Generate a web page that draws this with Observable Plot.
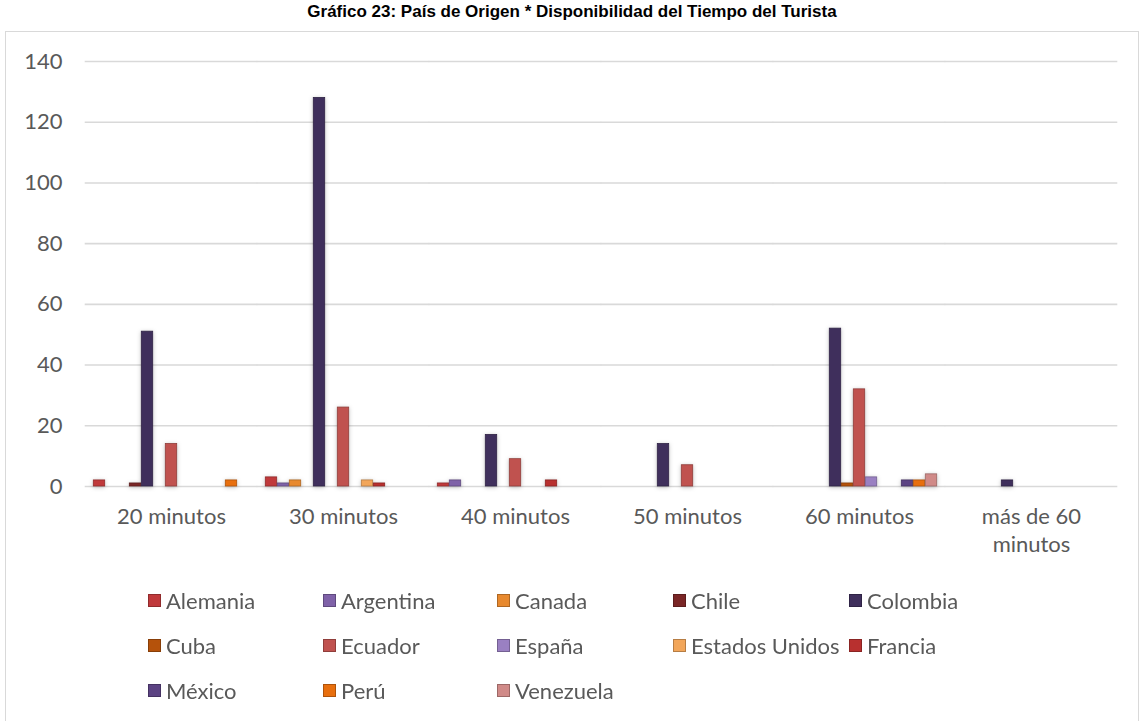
<!DOCTYPE html>
<html>
<head>
<meta charset="utf-8">
<script src="https://cdn.jsdelivr.net/npm/d3@7"></script>
<script src="https://cdn.jsdelivr.net/npm/@observablehq/plot@0.6"></script>
<style>
  html, body { margin: 0; padding: 0; background: #fff; }
  #wrap { position: relative; width: 1144px; height: 721px; overflow: hidden; font-family: Lato, "Open Sans", sans-serif; }
  #title { position: absolute; top: 2px; left: 0; width: 1144px; text-align: center; font: bold 17px "Liberation Sans", Arial, sans-serif; color: #000; }
  #frame { position: absolute; left: 5px; top: 31px; width: 1134px; height: 720px; border: 1px solid #D9D9D9; box-sizing: border-box; }
  #chart { position: absolute; left: 0; top: 31px; }
  #legend { position: absolute; left: 0; top: 0; width: 1144px; height: 721px; pointer-events: none; }
  .li { position: absolute; display: flex; align-items: center; font-size: 22px; color: #595959; white-space: nowrap; }
  .sw { width: 13px; height: 13px; margin-right: 5px; box-sizing: border-box; }
</style>
</head>
<body>
<div id="wrap">
  <div id="title">Gráfico 23: País de Origen * Disponibilidad del Tiempo del Turista</div>
  <div id="frame"></div>
  <div id="chart"></div>
  <div id="legend"></div>
</div>
<script>
// Categories (x groups)
const categories = ["20 minutos", "30 minutos", "40 minutos", "50 minutos", "60 minutos", "más de 60 minutos"];
// Series (countries)
const countries = ["Alemania", "Argentina", "Canada", "Chile", "Colombia", "Cuba", "Ecuador", "España", "Estados Unidos", "Francia", "México", "Perú", "Venezuela"];
// Series values, one per category
const alemania      = [2, 3, 1, 0, 0, 0];
const argentina     = [0, 1, 2, 0, 0, 0];
const canada        = [0, 2, 0, 0, 0, 0];
const chile         = [1, 0, 0, 0, 0, 0];
const colombia      = [51, 128, 17, 14, 52, 2];
const cuba          = [0, 0, 0, 0, 1, 0];
const ecuador       = [14, 26, 9, 7, 32, 0];
const espana        = [0, 0, 0, 0, 3, 0];
const estadosUnidos = [0, 2, 0, 0, 0, 0];
const francia       = [0, 1, 2, 0, 0, 0];
const mexico        = [0, 0, 0, 0, 2, 0];
const peru          = [2, 0, 0, 0, 2, 0];
const venezuela     = [0, 0, 0, 0, 4, 0];
const seriesValues = [alemania, argentina, canada, chile, colombia, cuba, ecuador, espana, estadosUnidos, francia, mexico, peru, venezuela];
// Colours per series
const colors = ["#C0393B", "#7F62A8", "#E8892E", "#7A2626", "#3F2F5C", "#B5520B", "#C0524F", "#9A80C2", "#F2A65A", "#B8302F", "#5C4383", "#E86F0E", "#D08A88"];
// Y-axis ticks
const yTicks = [0, 20, 40, 60, 80, 100, 120, 140];

const data = [];
countries.forEach((c, i) => {
  categories.forEach((cat, j) => {
    const v = seriesValues[i][j];
    if (v > 0) data.push({country: c, category: cat, value: v, color: colors[i]});
  });
});

const chart = Plot.plot({
  width: 1144,
  height: 530,
  marginTop: 30,
  marginBottom: 75,
  marginLeft: 83,
  marginRight: 26,
  style: {fontFamily: "Lato, 'Open Sans', sans-serif", fontSize: "22px", color: "#595959", background: "transparent", overflow: "visible"},
  fx: {domain: categories, paddingInner: 0.06, paddingOuter: 0.025, label: null, axis: null},
  x: {domain: countries, padding: 0, axis: null},
  y: {domain: [0, 140], axis: null},
  marks: [
    Plot.ruleY(yTicks, {stroke: "#D9D9D9", strokeWidth: 1.6, insetLeft: -5.3, insetRight: -5.3}),
    Plot.axisY(yTicks, {tickSize: 0, tickPadding: 28, label: null, fill: "#595959"}),
    Plot.barY(data, {
      fx: "category", x: "country", y: "value",
      fill: d => d.color,
      stroke: d => d3.color(d.color).darker(0.8).formatHex(),
      strokeWidth: 0.8,
      insetLeft: 0.3, insetRight: 0.3
    }),
    Plot.axisFx({
      anchor: "bottom",
      tickSize: 0, tickPadding: 17, label: null, lineHeight: 1.3, fill: "#595959",
      tickFormat: d => d === "más de 60 minutos" ? "más de 60\nminutos" : d
    })
  ]
});
chart.querySelectorAll('g[aria-label="bar"]').forEach(g => g.style.filter = "drop-shadow(0px 1px 2px rgba(0,0,0,0.25))");
document.getElementById("chart").appendChild(chart);

// Legend
const legendCols = [148, 323, 497, 673, 849];
const legendRows = [600, 645, 690];
const legend = document.getElementById("legend");
countries.forEach((c, i) => {
  const col = i % 5, row = Math.floor(i / 5);
  const item = document.createElement("div");
  item.className = "li";
  item.style.left = legendCols[col] + "px";
  item.style.top = (legendRows[row] - 13) + "px";
  item.style.height = "26px";
  const sw = document.createElement("div");
  sw.className = "sw";
  sw.style.background = colors[i];
  sw.style.border = "1px solid " + d3.color(colors[i]).darker(0.8).formatHex();
  const t = document.createElement("span");
  t.textContent = c;
  item.appendChild(sw);
  item.appendChild(t);
  legend.appendChild(item);
});
</script>
</body>
</html>
